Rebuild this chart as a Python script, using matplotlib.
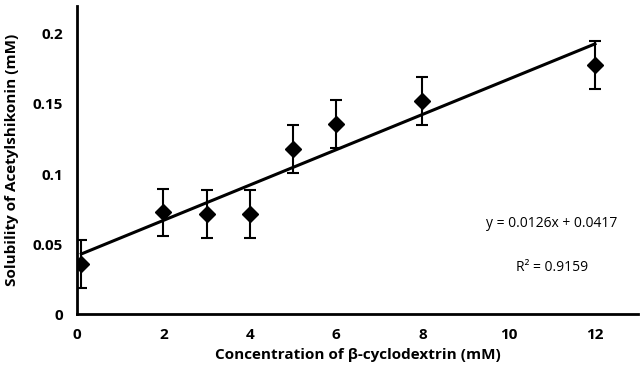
import matplotlib.pyplot as plt
import numpy as np

plt.rcParams['font.family'] = ['Open Sans', 'DejaVu Sans']

# data
conc = [0.1, 2, 3, 4, 5, 6, 8, 12]
solubility = [0.0356, 0.0726, 0.0714, 0.0714, 0.1177, 0.1357, 0.1523, 0.178]
err = [0.017, 0.017, 0.017, 0.017, 0.017, 0.017, 0.017, 0.017]
slope = 0.0126
intercept = 0.0417

fig = plt.figure(figsize=(6.42, 3.70), dpi=100)
ax = fig.add_axes([0.12, 0.151, 0.874, 0.833])

ax.errorbar(conc, solubility, yerr=err, fmt='D', color='black', markersize=8,
            ecolor='black', elinewidth=1.5, capsize=4, capthick=1.5, zorder=3)

xfit = np.array([conc[0], conc[-1]])
ax.plot(xfit, slope * xfit + intercept, color='black', linewidth=2.2, zorder=2)

ax.set_xlim(0, 13)
ax.set_ylim(0, 0.22)
ax.set_xticks([0, 2, 4, 6, 8, 10, 12])
ax.set_yticks([0, 0.05, 0.1, 0.15, 0.2])
ax.set_yticklabels(['0', '0.05', '0.1', '0.15', '0.2'])
ax.tick_params(length=0, labelsize=11, pad=10)
for lab in ax.get_xticklabels() + ax.get_yticklabels():
    lab.set_fontweight('bold')

for s in ['top', 'right']:
    ax.spines[s].set_visible(False)
for s in ['left', 'bottom']:
    ax.spines[s].set_linewidth(2)

ax.set_xlabel('Concentration of β-cyclodextrin (mM)', fontsize=11, fontweight='bold', labelpad=4)
ax.set_ylabel('Solubility of Acetylshikonin (mM)', fontsize=11, fontweight='bold', labelpad=10)

ax.text(11.0, 0.065, 'y = 0.0126x + 0.0417', fontsize=10, ha='center', va='center')
ax.text(11.0, 0.0335, 'R² = 0.9159', fontsize=10, ha='center', va='center')

plt.savefig('out.png', dpi=100)
